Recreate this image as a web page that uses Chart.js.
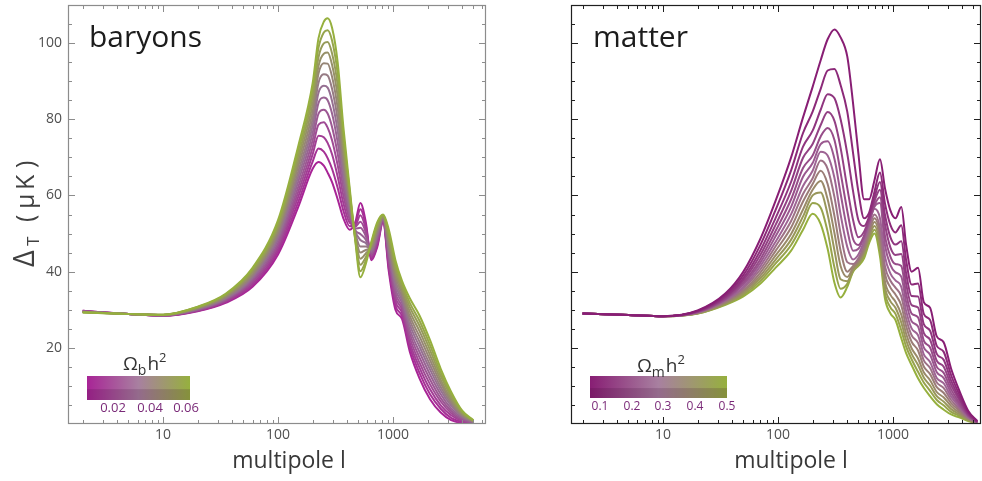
<!DOCTYPE html>
<html>
<head>
<meta charset="utf-8">
<script src="https://cdn.jsdelivr.net/npm/chart.js@4.4.1/dist/chart.umd.min.js"></script>
<style>
  html, body { margin: 0; padding: 0; background: #fff; }
  #wrap { position: relative; width: 982px; height: 481px; overflow: hidden; }
  canvas { position: absolute; top: 0; }
  #baryons { left: 0; }
  #matter { left: 490px; }
</style>
</head>
<body>
<div id="wrap">
  <canvas id="baryons" width="490" height="481"></canvas>
  <canvas id="matter" width="492" height="481"></canvas>
</div>
<script>
// ---- baryon panel: multipoles and one curve per Omega_b h^2 value (low -> high) ----
const ellBaryon = [2, 5, 10, 20, 35, 60, 100, 150, 200, 225, 250, 270, 295, 330, 370, 420,
                   470, 520, 580, 650, 730, 820, 920, 1050, 1200, 1400, 1700, 2100, 2600, 3200, 4000, 5000];

const baryonCurve1  = [29.7, 28.9, 28.4, 29.6, 31.8, 36.0, 44.5, 57.0, 67.0, 68.8, 67.8, 66.0, 63.5, 59.0, 54.0, 51.0, 53.0, 58.0, 53.0, 43.0, 46.5, 53.0, 40.0, 30.0, 27.5, 19.0, 12.0, 6.5, 3.0, 1.0, 0.2, 0];
const baryonCurve2  = [29.7, 28.9, 28.4, 29.7, 32.0, 36.4, 45.3, 58.3, 68.9, 72.3, 71.5, 69.8, 67.0, 62.0, 56.0, 51.9, 52.6, 56.4, 52.1, 43.4, 47.0, 53.2, 40.9, 31.1, 28.3, 20.2, 13.4, 7.8, 4.0, 1.6, 0.5, 0.1];
const baryonCurve3  = [29.6, 28.9, 28.5, 29.8, 32.2, 36.8, 46.0, 59.7, 70.8, 75.7, 75.3, 73.8, 70.8, 65.0, 58.0, 52.8, 52.2, 54.8, 51.2, 43.8, 47.6, 53.3, 41.8, 32.2, 29.2, 21.3, 14.8, 9.1, 4.9, 2.3, 0.8, 0.2];
const baryonCurve4  = [29.6, 28.9, 28.5, 29.9, 32.4, 37.3, 46.8, 61.0, 72.6, 78.6, 79.2, 77.8, 74.5, 68.0, 60.0, 53.8, 51.8, 53.1, 50.3, 44.3, 48.1, 53.5, 42.8, 33.3, 30.0, 22.5, 16.1, 10.4, 5.9, 2.9, 1.0, 0.3];
const baryonCurve5  = [29.6, 28.9, 28.5, 30.0, 32.6, 37.7, 47.5, 62.3, 74.5, 81.5, 82.5, 81.5, 78.0, 71.0, 62.0, 54.7, 51.3, 51.5, 49.3, 44.7, 48.7, 53.7, 43.7, 34.3, 30.8, 23.7, 17.5, 11.7, 6.8, 3.5, 1.3, 0.3];
const baryonCurve6  = [29.5, 28.9, 28.5, 30.1, 32.8, 38.1, 48.3, 63.7, 76.4, 84.3, 85.7, 85.0, 81.5, 74.0, 64.0, 55.6, 50.9, 49.9, 48.4, 45.1, 49.2, 53.8, 44.6, 35.4, 31.7, 24.8, 18.9, 13.0, 7.8, 4.1, 1.6, 0.4];
const baryonCurve7  = [29.5, 28.9, 28.6, 30.2, 33.0, 38.5, 49.0, 65.0, 78.3, 87.0, 88.8, 88.3, 84.8, 77.0, 66.0, 56.5, 50.5, 48.3, 47.5, 45.5, 49.8, 54.0, 45.5, 36.5, 32.5, 26.0, 20.3, 14.3, 8.8, 4.8, 1.9, 0.5];
const baryonCurve8  = [29.5, 28.9, 28.6, 30.3, 33.2, 38.9, 49.8, 66.3, 80.1, 89.6, 91.8, 91.5, 88.0, 80.0, 68.0, 57.4, 50.1, 46.6, 46.6, 45.9, 50.3, 54.2, 46.4, 37.6, 33.3, 27.2, 21.6, 15.5, 9.7, 5.4, 2.1, 0.6];
const baryonCurve9  = [29.4, 28.9, 28.6, 30.4, 33.4, 39.3, 50.5, 67.7, 82.0, 92.0, 94.7, 94.6, 91.2, 83.0, 70.0, 58.3, 49.7, 45.0, 45.7, 46.3, 50.8, 54.3, 47.3, 38.7, 34.2, 28.3, 23.0, 16.8, 10.7, 6.0, 2.4, 0.7];
const baryonCurve10 = [29.4, 28.9, 28.6, 30.5, 33.6, 39.8, 51.3, 69.0, 83.9, 94.0, 97.2, 97.5, 94.3, 86.0, 72.0, 59.3, 49.3, 43.4, 44.8, 46.8, 51.4, 54.5, 48.3, 39.8, 35.0, 29.5, 24.4, 18.1, 11.6, 6.6, 2.7, 0.8];
const baryonCurve11 = [29.4, 28.9, 28.7, 30.6, 33.8, 40.2, 52.0, 70.3, 85.8, 96.3, 99.9, 100.3, 97.3, 89.0, 74.0, 60.2, 48.8, 41.8, 43.8, 47.2, 51.9, 54.7, 49.2, 40.8, 35.8, 30.7, 25.8, 19.4, 12.6, 7.3, 3.0, 0.8];
const baryonCurve12 = [29.3, 28.9, 28.7, 30.7, 34.0, 40.6, 52.8, 71.7, 87.6, 98.8, 102.8, 103.4, 100.7, 92.0, 76.0, 61.1, 48.4, 40.1, 42.9, 47.6, 52.5, 54.8, 50.1, 41.9, 36.7, 31.8, 27.1, 20.7, 13.5, 7.9, 3.2, 0.9];
const baryonCurve13 = [29.3, 28.9, 28.7, 30.8, 34.2, 41.0, 53.5, 73.0, 89.5, 101.3, 105.6, 106.5, 104.0, 95.0, 78.0, 62.0, 48.0, 38.5, 42.0, 48.0, 53.0, 55.0, 51.0, 43.0, 37.5, 33.0, 28.5, 22.0, 14.5, 8.5, 3.5, 1.0];

// ---- matter panel: multipoles and one curve per Omega_m h^2 value (low -> high) ----
const ellMatter = [2, 5, 10, 20, 35, 50, 70, 95, 130, 165, 200, 235, 270, 310, 350, 400, 450, 500, 560,
                   620, 690, 770, 850, 950, 1050, 1180, 1300, 1450, 1650, 1850, 2100, 2400, 2750, 3200, 3800, 4500, 5400];

const matterCurve1  = [29.0, 28.6, 28.3, 29.8, 34.3, 40.0, 48.5, 58.5, 70.0, 80.5, 88.5, 95.5, 101.0, 103.6, 101.5, 96.5, 84.0, 71.0, 59.0, 59.0, 64.0, 69.5, 62.0, 56.0, 54.0, 57.0, 47.0, 40.0, 41.0, 32.0, 30.5, 23.0, 21.5, 14.5, 8.5, 3.5, 0.8];
const matterCurve2  = [29.0, 28.6, 28.3, 29.7, 33.9, 39.1, 46.9, 56.1, 66.6, 76.4, 82.0, 88.0, 92.8, 93.2, 89.0, 82.0, 71.0, 61.0, 54.0, 55.5, 61.0, 66.0, 58.0, 52.2, 50.3, 52.2, 43.0, 36.6, 36.9, 28.9, 27.3, 20.5, 19.0, 12.8, 7.5, 3.1, 0.7];
const matterCurve3  = [29.0, 28.6, 28.3, 29.6, 33.5, 38.3, 45.5, 54.0, 63.6, 72.8, 77.0, 82.5, 86.6, 85.5, 80.0, 71.0, 61.0, 53.5, 52.0, 54.5, 59.5, 63.5, 55.0, 49.0, 47.1, 48.0, 39.6, 33.6, 33.5, 26.2, 24.5, 18.4, 16.9, 11.4, 6.7, 2.8, 0.6];
const matterCurve4  = [29.0, 28.6, 28.3, 29.5, 33.2, 37.7, 44.3, 52.2, 61.2, 69.9, 73.5, 78.5, 81.9, 79.5, 72.5, 62.0, 53.5, 49.0, 50.5, 54.0, 58.5, 61.5, 52.5, 46.3, 44.4, 44.6, 36.8, 31.2, 30.6, 23.9, 22.1, 16.6, 15.1, 10.2, 6.1, 2.5, 0.5];
const matterCurve5  = [29.0, 28.6, 28.3, 29.4, 32.9, 37.1, 43.2, 50.6, 59.0, 67.2, 70.5, 75.5, 77.7, 74.5, 66.0, 56.0, 48.5, 47.0, 49.5, 53.5, 57.5, 59.5, 49.5, 43.9, 42.0, 41.5, 34.2, 29.0, 28.0, 21.9, 20.1, 15.0, 13.5, 9.1, 5.4, 2.3, 0.5];
const matterCurve6  = [29.0, 28.6, 28.3, 29.4, 32.7, 36.6, 42.3, 49.2, 57.0, 64.9, 68.5, 73.5, 74.2, 69.5, 60.5, 51.0, 45.5, 46.0, 49.0, 53.0, 57.0, 58.0, 47.0, 41.7, 39.8, 38.7, 32.0, 27.0, 25.6, 20.1, 18.2, 13.6, 12.1, 8.1, 4.9, 2.1, 0.4];
const matterCurve7  = [29.0, 28.6, 28.3, 29.3, 32.5, 36.0, 41.4, 47.8, 55.1, 62.5, 66.5, 71.5, 70.5, 64.5, 55.0, 46.5, 43.2, 44.5, 48.0, 52.5, 56.5, 54.0, 44.0, 39.5, 37.7, 36.0, 29.7, 25.1, 23.3, 18.3, 16.3, 12.1, 10.7, 7.2, 4.4, 1.9, 0.4];
const matterCurve8  = [29.0, 28.6, 28.3, 29.3, 32.3, 35.6, 40.5, 46.6, 53.3, 60.4, 64.5, 69.2, 67.0, 59.5, 50.0, 42.5, 42.0, 43.5, 47.0, 51.5, 55.0, 51.5, 41.5, 37.6, 35.8, 33.5, 27.7, 23.3, 21.3, 16.7, 14.7, 10.9, 9.5, 6.3, 3.9, 1.7, 0.3];
const matterCurve9  = [29.0, 28.6, 28.3, 29.2, 32.1, 35.1, 39.7, 45.4, 51.6, 58.4, 63.0, 66.5, 63.0, 54.5, 45.5, 40.0, 41.5, 43.0, 46.0, 50.5, 54.0, 50.0, 39.5, 35.8, 34.0, 31.1, 25.7, 21.6, 19.3, 15.1, 13.1, 9.7, 8.2, 5.5, 3.4, 1.5, 0.3];
const matterCurve10 = [29.0, 28.6, 28.3, 29.1, 31.8, 34.7, 38.9, 44.2, 49.9, 56.3, 61.5, 63.8, 59.0, 50.0, 41.5, 38.6, 41.0, 42.5, 45.5, 49.5, 53.0, 48.5, 37.5, 33.9, 32.1, 28.7, 23.7, 19.9, 17.2, 13.6, 11.5, 8.4, 7.0, 4.7, 2.9, 1.3, 0.2];
const matterCurve11 = [29.0, 28.6, 28.3, 29.1, 31.7, 34.3, 38.2, 43.1, 48.4, 54.5, 60.0, 60.8, 55.0, 45.5, 38.0, 37.5, 40.5, 42.0, 45.0, 49.0, 52.0, 47.0, 36.0, 32.2, 30.5, 26.6, 22.0, 18.4, 15.5, 12.2, 10.1, 7.3, 5.9, 3.9, 2.5, 1.1, 0.2];
const matterCurve12 = [29.0, 28.6, 28.3, 29.0, 31.5, 33.9, 37.5, 42.1, 47.0, 52.8, 58.0, 56.8, 50.5, 41.0, 35.5, 36.8, 40.2, 41.8, 44.2, 48.2, 51.0, 45.5, 34.5, 30.6, 28.9, 24.6, 20.3, 17.0, 13.7, 10.9, 8.7, 6.3, 4.9, 3.2, 2.1, 1.0, 0.1];
const matterCurve13 = [29.0, 28.6, 28.3, 29.0, 31.3, 33.5, 36.8, 41.0, 45.5, 51.0, 55.2, 52.5, 46.0, 37.0, 33.2, 36.0, 40.0, 41.5, 43.5, 47.5, 50.0, 44.0, 33.0, 29.0, 27.3, 22.5, 18.6, 15.5, 12.0, 9.5, 7.3, 5.2, 3.8, 2.5, 1.7, 0.8, 0.1];

// axis ticks and colour-bar labels
const yTickValues = [20, 40, 60, 80, 100];
const xTickValues = [10, 100, 1000];
const baryonBarLabels = ['0.02', '0.04', '0.06'];
const matterBarLabels = ['0.1', '0.2', '0.3', '0.4', '0.5'];

const baryonCurves = [baryonCurve1, baryonCurve2, baryonCurve3, baryonCurve4, baryonCurve5, baryonCurve6, baryonCurve7,
                      baryonCurve8, baryonCurve9, baryonCurve10, baryonCurve11, baryonCurve12, baryonCurve13];
const matterCurves = [matterCurve1, matterCurve2, matterCurve3, matterCurve4, matterCurve5, matterCurve6, matterCurve7,
                      matterCurve8, matterCurve9, matterCurve10, matterCurve11, matterCurve12, matterCurve13];

// colour ramp magenta -> mauve -> olive
const rampBaryon = [[168, 36, 150], [150, 112, 146], [150, 176, 62]];
const rampMatter = [[136, 30, 116], [158, 100, 148], [150, 176, 62]];

function ramp(stops, t) {
  const seg = t < 0.5 ? 0 : 1;
  const u = t < 0.5 ? t * 2 : (t - 0.5) * 2;
  const a = stops[seg], b = stops[seg + 1];
  const c = a.map((v, i) => Math.round(v + (b[i] - v) * u));
  return 'rgb(' + c.join(',') + ')';
}

function makeDatasets(ells, curves, stops, magentaOnTop) {
  const n = curves.length;
  return curves.map((vals, k) => ({
    data: ells.map((l, i) => ({x: l, y: vals[i]})),
    borderColor: ramp(stops, k / (n - 1)),
    borderWidth: 2,
    pointRadius: 0,
    fill: false,
    cubicInterpolationMode: 'monotone',
    order: magentaOnTop ? k : n - k
  }));
}

const FONT = '"Open Sans", "Noto Sans", sans-serif';

function line(ctx, x1, y1, x2, y2) {
  ctx.beginPath(); ctx.moveTo(x1, y1); ctx.lineTo(x2, y2); ctx.stroke();
}

// frame, inward tick marks, labels and colour bar
function decor(cfg) {
  return {
    id: 'decor',
    afterDatasetsDraw(chart) {
      const {ctx, chartArea: a, scales: {x, y}} = chart;
      ctx.save();
      ctx.strokeStyle = cfg.frame;
      ctx.lineWidth = 1.2;
      ctx.strokeRect(a.left + 0.5, a.top + 0.5, a.right - a.left - 1, a.bottom - a.top - 1);
      ctx.lineWidth = 1;
      for (let v = 5; v < 110; v += 5) {
        const py = Math.round(y.getPixelForValue(v)) + 0.5;
        const len = v % 20 === 0 ? 7 : 4;
        line(ctx, a.left, py, a.left + len, py);
        line(ctx, a.right, py, a.right - len, py);
      }
      for (let d = 1; d <= 1000; d *= 10) {
        for (let m = 1; m <= 9; m++) {
          const v = d * m;
          if (v < x.min || v > x.max) continue;
          const px = Math.round(x.getPixelForValue(v)) + 0.5;
          const len = m === 1 ? 7 : 4;
          line(ctx, px, a.bottom, px, a.bottom - len);
          line(ctx, px, a.top, px, a.top + len);
        }
      }
      ctx.restore();
    },
    afterDraw(chart) {
      const ctx = chart.ctx;
      ctx.save();
      // panel name
      ctx.fillStyle = '#1c1c1c';
      ctx.font = '30px ' + FONT;
      ctx.textBaseline = 'alphabetic';
      ctx.fillText(cfg.name, cfg.nameX, 47);
      // x title
      ctx.fillStyle = '#383838';
      ctx.font = '23px ' + FONT;
      ctx.textAlign = 'center';
      ctx.fillText('multipole l', cfg.xTitleX, 468);
      ctx.textAlign = 'left';
      // y title with subscript
      if (cfg.yTitle) {
        ctx.save();
        ctx.translate(34, 0);
        ctx.rotate(-Math.PI / 2);
        ctx.fillStyle = '#404040';
        ctx.font = '29px ' + FONT;
        ctx.fillText('\u0394', -267, 0);
        ctx.font = '17px ' + FONT;
        ctx.fillText('T', -246, 5);
        ctx.font = '25px ' + FONT;
        ctx.fillText('(', -222, 0);
        ctx.fillText('\u03bc', -209, 0);
        ctx.fillText('K', -190, 0);
        ctx.fillText(')', -168, 0);
        ctx.restore();
      }
      // colour bar
      const b = cfg.bar;
      const g = ctx.createLinearGradient(b.x, 0, b.x + b.w, 0);
      g.addColorStop(0, ramp(cfg.stops, 0));
      g.addColorStop(0.5, 'rgb(168,128,160)');
      g.addColorStop(1, ramp(cfg.stops, 1));
      ctx.fillStyle = g;
      ctx.fillRect(b.x, b.y, b.w, b.h);
      ctx.fillStyle = 'rgba(60,10,50,0.18)';
      ctx.fillRect(b.x, b.y + b.h * 0.55, b.w, b.h * 0.45);
      ctx.fillStyle = '#7a2a78';
      ctx.font = cfg.barFont + 'px ' + FONT;
      ctx.textAlign = 'center';
      ctx.textBaseline = 'middle';
      cfg.barLabels.forEach((t, i) => ctx.fillText(t, cfg.barLabelX[i], cfg.barLabelY));
      // colour bar title  (Omega_x h^2)
      ctx.textAlign = 'left';
      ctx.textBaseline = 'alphabetic';
      ctx.fillStyle = '#333';
      const s = cfg.barTitle;
      ctx.font = '19px ' + FONT;
      ctx.fillText('\u03a9', s.x, s.y);
      let cx = s.x + ctx.measureText('\u03a9').width;
      ctx.font = '14px ' + FONT;
      ctx.fillText(s.sub, cx, s.y + 5);
      cx += ctx.measureText(s.sub).width + 1;
      ctx.font = '19px ' + FONT;
      ctx.fillText('h', cx, s.y);
      cx += ctx.measureText('h').width;
      ctx.font = '13px ' + FONT;
      ctx.fillText('2', cx, s.y - 8);
      ctx.restore();
    }
  };
}

function makeChart(id, ells, curves, stops, magentaOnTop, xmin, xmax, yAxisWidth, padRight, showY, cfg) {
  return new Chart(document.getElementById(id), {
    type: 'line',
    data: {datasets: makeDatasets(ells, curves, stops, magentaOnTop)},
    options: {
      responsive: false,
      animation: false,
      events: [],
      layout: {padding: {top: 5, right: padRight, left: 0, bottom: 0}},
      plugins: {legend: {display: false}, tooltip: {enabled: false}},
      scales: {
        x: {
          type: 'logarithmic', min: xmin, max: xmax,
          grid: {display: false, drawTicks: false},
          border: {display: false},
          afterBuildTicks: s => { s.ticks = xTickValues.map(v => ({value: v})); },
          afterFit: s => { s.height = 57; s.paddingLeft = 0; s.paddingRight = 0; },
          ticks: {
            autoSkip: false, maxRotation: 0, padding: 3,
            color: '#505050', font: {family: FONT, size: 14},
            callback: v => String(v)
          }
        },
        y: {
          type: 'linear', min: 0, max: 110,
          grid: {display: false, drawTicks: false},
          border: {display: false},
          afterBuildTicks: s => { s.ticks = yTickValues.map(v => ({value: v})); },
          afterFit: s => { s.width = yAxisWidth; s.paddingTop = 0; s.paddingBottom = 0; },
          ticks: {
            display: showY, padding: 6,
            color: '#505050', font: {family: FONT, size: 14},
            callback: v => String(v)
          }
        }
      }
    },
    plugins: [decor(cfg)]
  });
}

makeChart('baryons', ellBaryon, baryonCurves, rampBaryon, false, 1.49, 6440, 68, 4, true, {
  name: 'baryons', nameX: 89, xTitleX: 289, yTitle: true, frame: '#8c8c8c', stops: rampBaryon,
  bar: {x: 87, y: 376, w: 103, h: 24}, barFont: 13,
  barLabels: baryonBarLabels, barLabelX: [113, 150, 186], barLabelY: 408,
  barTitle: {x: 123, y: 370, sub: 'b'}
});

makeChart('matter', ellMatter, matterCurves, rampMatter, true, 1.585, 5820, 81, 1, false, {
  name: 'matter', nameX: 103, xTitleX: 301, yTitle: false, frame: '#202020', stops: rampMatter,
  bar: {x: 100, y: 376, w: 137, h: 22}, barFont: 12,
  barLabels: matterBarLabels, barLabelX: [110, 142, 173, 205, 237], barLabelY: 407,
  barTitle: {x: 147, y: 372, sub: 'm'}
});
</script>
</body>
</html>
